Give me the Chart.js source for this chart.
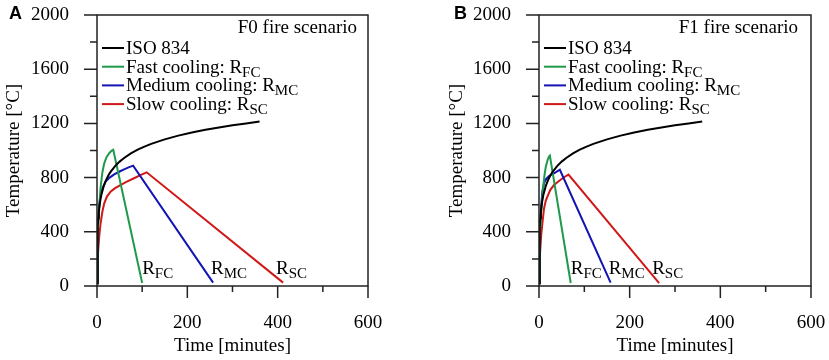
<!DOCTYPE html>
<html>
<head>
<meta charset="utf-8">
<script src="https://cdn.jsdelivr.net/npm/chart.js@4/dist/chart.umd.min.js"></script>
<style>
  body { margin: 0; background: #fff; width: 829px; height: 360px; position: relative; overflow: hidden; }
  canvas { position: absolute; top: 0; }
  #chartA { left: 0; }
  #chartB { left: 414px; }
</style>
</head>
<body>
<canvas id="chartA" width="415" height="360"></canvas>
<canvas id="chartB" width="415" height="360"></canvas>
<script>
// ISO 834 standard curve (same in both panels)
const isoTime = [0, 1, 2, 3, 4, 5, 7, 10, 15, 20, 25, 30, 40, 50, 60, 75, 90, 105, 120, 150, 180, 210, 240, 270, 300, 330, 360];
const isoTemp = [20, 349, 445, 502, 544, 576, 626, 678, 739, 781, 815, 842, 885, 918, 945, 979, 1006, 1029, 1049, 1082, 1110, 1133, 1153, 1170, 1186, 1200, 1214];

// panel A - F0 fire scenario
const fastTimeA = [0, 1, 2, 3, 5, 8, 12, 16, 21, 27, 32, 36, 100];
const fastTempA = [20, 230, 380, 470, 585, 730, 840, 905, 950, 980, 998, 1005, 22];
const mediumTimeA = [0, 1, 2, 3, 5, 8, 12, 19, 28, 38, 50, 60, 70, 80, 257];
const mediumTempA = [20, 250, 400, 500, 600, 672, 720, 770, 800, 824, 845, 861, 875, 888, 25];
const slowTimeA = [0, 1, 2, 3, 5, 8, 12, 16, 22, 30, 40, 52, 65, 82, 96, 110, 412];
const slowTempA = [20, 110, 200, 280, 370, 463, 550, 610, 660, 696, 722, 745, 768, 795, 818, 839, 25];

// panel B - F1 fire scenario
const fastTimeB = [0, 1, 2, 3, 4, 6, 9, 12, 15, 19, 22, 24, 70];
const fastTempB = [20, 230, 370, 460, 520, 590, 720, 815, 880, 930, 955, 962, 22];
const mediumTimeB = [0, 1, 2, 3, 5, 7.5, 11, 16, 22, 28, 33, 40, 46, 158];
const mediumTempB = [20, 240, 390, 480, 600, 700, 760, 790, 812, 824, 832, 846, 858, 25];
const slowTimeB = [0, 1, 2, 3, 5, 7.5, 11, 15, 18.5, 25, 33, 42, 52, 58, 65, 265];
const slowTempB = [20, 110, 200, 280, 380, 463, 570, 630, 659, 710, 745, 770, 795, 808, 822, 22];

const seriesNames = ['ISO 834', 'Fast cooling: R', 'Medium cooling: R', 'Slow cooling: R'];
const seriesSubs = ['', 'FC', 'MC', 'SC'];
const seriesColors = ['#000000', '#1f9a4a', '#1414b4', '#d01818'];

const yTicks = [0, 400, 800, 1200, 1600, 2000];
const yMinor = [200, 600, 1000, 1400, 1800];
const xTicks = [0, 200, 400, 600];
const xMinor = [100, 300, 500];

const SERIF = "'Liberation Serif', 'Times New Roman', serif";
const FS = 19;
Chart.defaults.font.family = SERIF;
Chart.defaults.font.size = FS;
Chart.defaults.color = '#000';

// nudge of the R labels at the curve ends (px)
const endLabelDx = [0, 0, -2, -7];

const pts = (ts, vs) => ts.map((t, i) => ({ x: t, y: vs[i] }));

// text with a subscript part
function subText(ctx, x, y, main, sub) {
  ctx.font = FS + 'px ' + SERIF;
  ctx.textBaseline = 'alphabetic';
  ctx.textAlign = 'left';
  ctx.fillText(main, x, y);
  if (sub) {
    const w = ctx.measureText(main).width;
    ctx.font = '15px ' + SERIF;
    ctx.fillText(sub, x + w, y + 4);
  }
}

const decorPlugin = {
  id: 'decor',
  afterDraw(chart, args, opts) {
    const ctx = chart.ctx;
    const { left, right, top, bottom } = chart.chartArea;
    const xs = chart.scales.x, ys = chart.scales.y;
    ctx.save();
    // frame
    ctx.strokeStyle = '#222';
    ctx.lineWidth = 1.5;
    ctx.strokeRect(left, top, right - left, bottom - top);
    // tick marks
    ctx.beginPath();
    yTicks.forEach(v => { const p = ys.getPixelForValue(v); ctx.moveTo(left, p); ctx.lineTo(left - 13, p); });
    yMinor.forEach(v => { const p = ys.getPixelForValue(v); ctx.moveTo(left, p); ctx.lineTo(left - 7, p); });
    xTicks.forEach(v => { const p = xs.getPixelForValue(v); ctx.moveTo(p, bottom); ctx.lineTo(p, bottom + 12); });
    xMinor.forEach(v => { const p = xs.getPixelForValue(v); ctx.moveTo(p, bottom); ctx.lineTo(p, bottom + 6); });
    ctx.stroke();

    ctx.fillStyle = '#000';
    // scenario title
    ctx.font = FS + 'px ' + SERIF;
    ctx.textAlign = 'right';
    ctx.textBaseline = 'middle';
    ctx.fillText(opts.scenario, right - opts.titleRight, top + 13);

    // legend
    seriesNames.forEach((name, i) => {
      const y = top + 33 + i * 18.7;
      ctx.strokeStyle = seriesColors[i];
      ctx.lineWidth = 2;
      ctx.beginPath();
      ctx.moveTo(left + 5, y);
      ctx.lineTo(left + 27, y);
      ctx.stroke();
      ctx.fillStyle = '#000';
      subText(ctx, left + 29, y + 6, name, seriesSubs[i]);
    });

    // curve end labels
    chart.data.datasets.forEach((ds, i) => {
      if (!seriesSubs[i]) return;
      const last = ds.data[ds.data.length - 1];
      const px = xs.getPixelForValue(last.x);
      subText(ctx, px + endLabelDx[i], bottom - 12, 'R', seriesSubs[i]);
    });

    // panel letter
    ctx.font = 'bold 18px "Liberation Sans", Arial, sans-serif';
    ctx.textAlign = 'left';
    ctx.textBaseline = 'middle';
    ctx.fillText(opts.letter, opts.letterX, 14);
    ctx.restore();
  }
};

function makeChart(id, series, p) {
  return new Chart(document.getElementById(id), {
    type: 'scatter',
    data: {
      datasets: series.map((s, i) => ({
        label: seriesNames[i] + seriesSubs[i],
        data: s,
        showLine: true,
        borderColor: seriesColors[i],
        backgroundColor: seriesColors[i],
        borderWidth: 2,
        pointRadius: 0,
        tension: 0,
        order: i === 0 ? 0 : 1
      }))
    },
    options: {
      responsive: false,
      animation: false,
      layout: { padding: { top: 15, right: p.padRight, left: 0, bottom: 0 } },
      plugins: {
        legend: { display: false },
        tooltip: { enabled: false },
        decor: { scenario: p.scenario, letter: p.letter, letterX: p.letterX, titleRight: p.titleRight }
      },
      scales: {
        x: {
          type: 'linear',
          min: 0, max: 600,
          afterBuildTicks: s => { s.ticks = xTicks.map(v => ({ value: v })); },
          afterFit: s => { s.height = 74; s.paddingLeft = 0; s.paddingRight = 0; },
          grid: { display: false, drawTicks: false },
          border: { display: false },
          ticks: { padding: 26, font: { family: SERIF, size: FS }, callback: v => String(v) },
          title: { display: true, text: 'Time [minutes]', font: { family: SERIF, size: FS }, padding: { top: 0, bottom: 3 } }
        },
        y: {
          min: 0, max: 2000,
          afterBuildTicks: s => { s.ticks = yTicks.map(v => ({ value: v })); },
          afterFit: s => { s.width = p.axisWidth; s.paddingTop = 0; s.paddingBottom = 0; },
          grid: { display: false, drawTicks: false },
          border: { display: false },
          ticks: { padding: 28, font: { family: SERIF, size: FS }, callback: v => String(v) },
          title: { display: true, text: 'Temperature [°C]', font: { family: SERIF, size: FS }, padding: { top: p.yTitlePad, bottom: 0 } }
        }
      }
    },
    plugins: [decorPlugin]
  });
}

makeChart('chartA', [
  pts(isoTime, isoTemp),
  pts(fastTimeA, fastTempA),
  pts(mediumTimeA, mediumTempA),
  pts(slowTimeA, slowTempA)
], { axisWidth: 97, padRight: 47, yTitlePad: 3, scenario: 'F0 fire scenario', letter: 'A', letterX: 9, titleRight: 11 });

makeChart('chartB', [
  pts(isoTime, isoTemp),
  pts(fastTimeB, fastTempB),
  pts(mediumTimeB, mediumTempB),
  pts(slowTimeB, slowTempB)
], { axisWidth: 125, padRight: 18, yTitlePad: 32, scenario: 'F1 fire scenario', letter: 'B', letterX: 40, titleRight: 13 });
</script>
</body>
</html>
